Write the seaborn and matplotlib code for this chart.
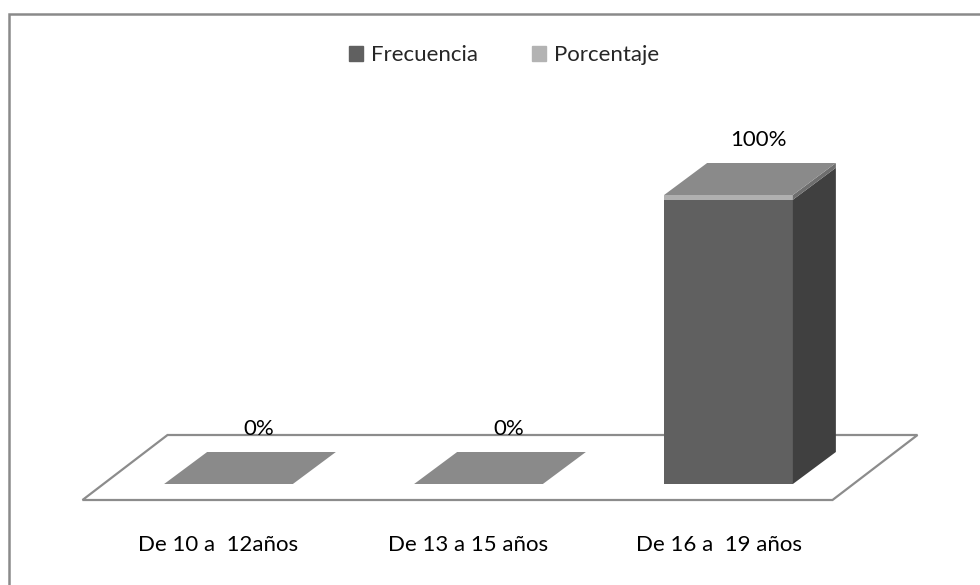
import matplotlib.pyplot as plt
import matplotlib.patches as mpatches
import numpy as np
import pandas as pd
import seaborn as sns

categorias = ["De 10 a  12años", "De 13 a 15 años", "De 16 a  19 años"]
frecuencia = [0, 0, 60]
porcentaje = [0, 0, 1]
etiquetas = ["0%", "0%", "100%"]

sns.set_style("white")
plt.rcParams["font.family"] = ["Lato", "DejaVu Sans"]

W, H = 980, 585
fig = plt.figure(figsize=(W / 100, H / 100), dpi=100)
ax = fig.add_axes([103.5 / W, 101 / H, 750 / W, 289 / H])

total = np.add(frecuencia, porcentaje)
df = pd.DataFrame({"cat": categorias, "frec": frecuencia, "total": total})

# barras apiladas: primero el total (porcentaje arriba), luego la frecuencia encima
sns.barplot(data=df, x="cat", y="total", color="#b0b0b0", width=0.515, linewidth=0,
            edgecolor="none", saturation=1, errorbar=None, ax=ax, zorder=3)
sns.barplot(data=df, x="cat", y="frec", color="#606060", width=0.515, linewidth=0,
            edgecolor="none", saturation=1, errorbar=None, ax=ax, zorder=3)
ax.set_xlim(-0.5, 2.5)
ax.set_ylim(0, total.max())
ax.set_axis_off()

DX, DY = 43, 32  # profundidad de las barras en pixeles


def poligono(pts, z, **kw):
    pts = ax.transData.inverted().transform(np.array(pts, dtype=float))
    ax.add_patch(mpatches.Polygon(pts, closed=True, zorder=z, clip_on=False, **kw))


# piso
xl, yb = ax.transData.transform((-0.5, 0))
xr, _ = ax.transData.transform((2.5, 0))
poligono([(xl - 21, yb - 16), (xr - 21, yb - 16), (xr + 64, yb + 49), (xl + 64, yb + 49)],
         1, facecolor="white", edgecolor="#8c8c8c", linewidth=1.6)

n = len(categorias)
for i in range(n):
    pt = ax.patches[i]
    pf = ax.patches[n + i]
    x0 = pf.get_x()
    w = pf.get_width()
    x0p, y0p = ax.transData.transform((x0, 0))
    x1p, yfp = ax.transData.transform((x0 + w, pf.get_height()))
    _, ytp = ax.transData.transform((x0 + w, pt.get_height()))
    if pf.get_height() > 0:
        poligono([(x1p, y0p), (x1p, yfp), (x1p + DX, yfp + DY), (x1p + DX, y0p + DY)],
                 4, facecolor="#404040", edgecolor="none")
    if pt.get_height() > pf.get_height():
        poligono([(x1p, yfp), (x1p, ytp), (x1p + DX, ytp + DY), (x1p + DX, yfp + DY)],
                 4, facecolor="#6e6e6e", edgecolor="none")
    poligono([(x0p, ytp), (x1p, ytp), (x1p + DX, ytp + DY), (x0p + DX, ytp + DY)],
             5, facecolor="#8a8a8a", edgecolor="none")

    ax.annotate(etiquetas[i], xy=(i, total[i]), xytext=(30, 55), textcoords="offset pixels",
                ha="center", va="center", fontsize=16, color="black", zorder=6)
    ax.annotate(categorias[i], xy=(i, 0), xytext=(-10, -61), textcoords="offset pixels",
                ha="center", va="center", fontsize=16, color="black")

handles = [mpatches.Patch(color="#606060", label="Frecuencia"),
           mpatches.Patch(color="#b3b3b3", label="Porcentaje")]
fig.legend(handles=handles, loc="center", bbox_to_anchor=(504 / W, 1 - 55 / H), ncol=2,
           frameon=False, handlelength=0.65, handleheight=0.65, handletextpad=0.35,
           columnspacing=2.4, fontsize=16)

# marco del grafico
fig.add_artist(mpatches.Rectangle((8.5 / W, -0.1), 1.2, 1.1 - 14.5 / H, transform=fig.transFigure,
                                  fill=False, edgecolor="#8a8a8a", linewidth=1.8))

fig.savefig("out.png", dpi=100)
